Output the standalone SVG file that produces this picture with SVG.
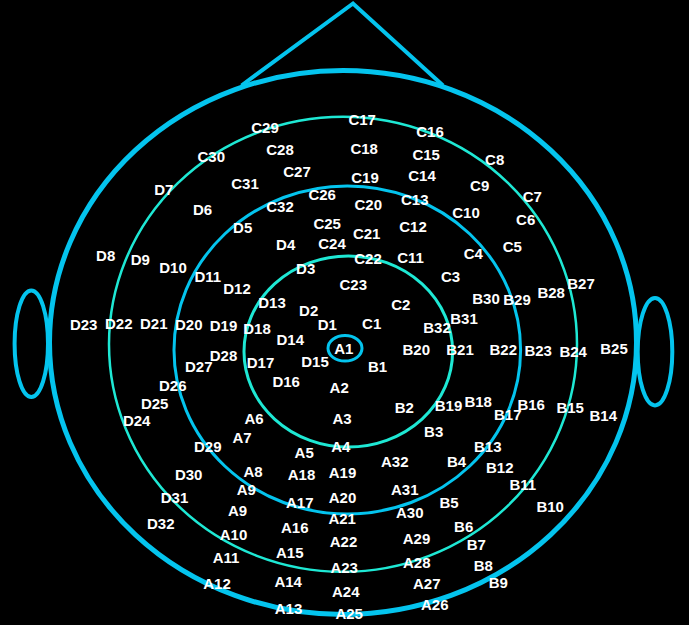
<svg xmlns="http://www.w3.org/2000/svg" width="689" height="625" viewBox="0 0 689 625">
<style>
.bg{fill:#000}
.hd{fill:none;stroke:#04c4ee}
.tq{fill:none;stroke:#1ee8d4}
text{font-family:"Liberation Sans",Arial,sans-serif;font-weight:bold;font-size:15px;fill:#fff;text-anchor:middle}
</style>
<rect class="bg" x="0" y="0" width="689" height="625"/>
<g id="head">
<polyline class="hd" points="241.5,85.5 353,3.5 443,85.5" stroke-width="4" stroke-linejoin="miter"/>
<ellipse class="hd" cx="343" cy="342.5" rx="293.5" ry="272" stroke-width="5"/>
<ellipse class="hd" cx="31.3" cy="343.7" rx="16.7" ry="53.3" stroke-width="4"/>
<ellipse class="hd" cx="655" cy="351.7" rx="17.3" ry="53.7" stroke-width="4"/>
<ellipse class="tq" cx="343" cy="344.3" rx="234" ry="227.5" stroke-width="2.5"/>
<ellipse class="hd" cx="347.3" cy="350" rx="173.3" ry="164" stroke-width="3"/>
<ellipse class="tq" cx="348.3" cy="351.5" rx="104.3" ry="95.5" stroke-width="3"/>
<ellipse class="hd" cx="345" cy="348.3" rx="17" ry="12.8" stroke-width="3"/>
</g>
<g id="labels">
<g id="C1"><text x="371.7" y="328.7">C1</text></g>
<g id="C2"><text x="400.8" y="309.9">C2</text></g>
<g id="C3"><text x="450.5" y="282.4">C3</text></g>
<g id="C4"><text x="473.3" y="258.7">C4</text></g>
<g id="C5"><text x="512.3" y="251.6">C5</text></g>
<g id="C6"><text x="525.7" y="224.9">C6</text></g>
<g id="C7"><text x="532.3" y="202.1">C7</text></g>
<g id="C8"><text x="494.7" y="165.4">C8</text></g>
<g id="C9"><text x="479.7" y="191.4">C9</text></g>
<g id="C10"><text x="466" y="218.2">C10</text></g>
<g id="C11"><text x="410.5" y="263.2">C11</text></g>
<g id="C12"><text x="413" y="231.6">C12</text></g>
<g id="C13"><text x="414.8" y="204.9">C13</text></g>
<g id="C14"><text x="422" y="180.9">C14</text></g>
<g id="C15"><text x="426.2" y="160.4">C15</text></g>
<g id="C16"><text x="430" y="137.2">C16</text></g>
<g id="C17"><text x="362.2" y="124.9">C17</text></g>
<g id="C18"><text x="364.2" y="153.7">C18</text></g>
<g id="C19"><text x="365" y="183.2">C19</text></g>
<g id="C20"><text x="368.3" y="210.4">C20</text></g>
<g id="C21"><text x="366.7" y="239.2">C21</text></g>
<g id="C22"><text x="368" y="263.7">C22</text></g>
<g id="C23"><text x="353.3" y="290.4">C23</text></g>
<g id="C24"><text x="332" y="248.7">C24</text></g>
<g id="C25"><text x="327.2" y="228.7">C25</text></g>
<g id="C26"><text x="322.2" y="199.9">C26</text></g>
<g id="C27"><text x="297" y="177.1">C27</text></g>
<g id="C28"><text x="280" y="154.9">C28</text></g>
<g id="C29"><text x="265" y="132.9">C29</text></g>
<g id="C30"><text x="211.3" y="162.4">C30</text></g>
<g id="C31"><text x="245" y="189.2">C31</text></g>
<g id="C32"><text x="280" y="211.9">C32</text></g>
<g id="D1"><text x="327.3" y="329.9">D1</text></g>
<g id="D2"><text x="308.7" y="315.9">D2</text></g>
<g id="D3"><text x="305.7" y="274.2">D3</text></g>
<g id="D4"><text x="285.7" y="249.9">D4</text></g>
<g id="D5"><text x="242.7" y="232.6">D5</text></g>
<g id="D6"><text x="202.5" y="214.9">D6</text></g>
<g id="D7"><text x="163.8" y="195.4">D7</text></g>
<g id="D8"><text x="105.7" y="261.2">D8</text></g>
<g id="D9"><text x="140.3" y="265.4">D9</text></g>
<g id="D10"><text x="173" y="273.2">D10</text></g>
<g id="D11"><text x="207.8" y="281.9">D11</text></g>
<g id="D12"><text x="237" y="293.7">D12</text></g>
<g id="D13"><text x="272" y="307.9">D13</text></g>
<g id="D14"><text x="290.3" y="345.4">D14</text></g>
<g id="D15"><text x="315" y="366.6">D15</text></g>
<g id="D16"><text x="286.2" y="387.4">D16</text></g>
<g id="D17"><text x="260.5" y="368.2">D17</text></g>
<g id="D18"><text x="257" y="334.1">D18</text></g>
<g id="D19"><text x="223.5" y="330.9">D19</text></g>
<g id="D20"><text x="188.8" y="330.4">D20</text></g>
<g id="D21"><text x="153.8" y="329.2">D21</text></g>
<g id="D22"><text x="118.8" y="329.2">D22</text></g>
<g id="D23"><text x="83.7" y="329.9">D23</text></g>
<g id="D24"><text x="136.7" y="425.9">D24</text></g>
<g id="D25"><text x="154.7" y="409.2">D25</text></g>
<g id="D26"><text x="172.8" y="391.2">D26</text></g>
<g id="D27"><text x="198.8" y="371.6">D27</text></g>
<g id="D28"><text x="223.5" y="360.7">D28</text></g>
<g id="D29"><text x="207.8" y="451.6">D29</text></g>
<g id="D30"><text x="188.7" y="479.9">D30</text></g>
<g id="D31"><text x="174.5" y="502.6">D31</text></g>
<g id="D32"><text x="160.8" y="529.2">D32</text></g>
<g id="A1"><text x="343.8" y="353.6">A1</text></g>
<g id="A2"><text x="339.2" y="393.2">A2</text></g>
<g id="A3"><text x="342" y="423.9">A3</text></g>
<g id="A4"><text x="340.8" y="451.6">A4</text></g>
<g id="A5"><text x="304.2" y="457.6">A5</text></g>
<g id="A6"><text x="254" y="423.9">A6</text></g>
<g id="A7"><text x="242" y="443.2">A7</text></g>
<g id="A8"><text x="253" y="477.1">A8</text></g>
<g id="A9"><text x="246.3" y="495.4">A9</text></g>
<g id="A9b"><text x="237.5" y="516.2">A9</text></g>
<g id="A10"><text x="233.5" y="540.4">A10</text></g>
<g id="A11"><text x="226" y="563.2">A11</text></g>
<g id="A12"><text x="217" y="589.1">A12</text></g>
<g id="A13"><text x="288.5" y="614.1">A13</text></g>
<g id="A14"><text x="288.2" y="587.4">A14</text></g>
<g id="A15"><text x="289.8" y="557.6">A15</text></g>
<g id="A16"><text x="294.8" y="532.6">A16</text></g>
<g id="A17"><text x="299.8" y="508.2">A17</text></g>
<g id="A18"><text x="301.5" y="480.4">A18</text></g>
<g id="A19"><text x="342.5" y="477.6">A19</text></g>
<g id="A20"><text x="342.5" y="502.6">A20</text></g>
<g id="A21"><text x="342.2" y="524.2">A21</text></g>
<g id="A22"><text x="343.5" y="547.1">A22</text></g>
<g id="A23"><text x="344.2" y="573.2">A23</text></g>
<g id="A24"><text x="345.8" y="597.4">A24</text></g>
<g id="A25"><text x="349.2" y="618.9">A25</text></g>
<g id="A26"><text x="434.8" y="609.9">A26</text></g>
<g id="A27"><text x="426.8" y="589.2">A27</text></g>
<g id="A28"><text x="416.8" y="567.6">A28</text></g>
<g id="A29"><text x="416.5" y="544.2">A29</text></g>
<g id="A30"><text x="409.8" y="518.2">A30</text></g>
<g id="A31"><text x="404.8" y="494.9">A31</text></g>
<g id="A32"><text x="394.8" y="466.6">A32</text></g>
<g id="B1"><text x="377.5" y="372.2">B1</text></g>
<g id="B2"><text x="404.3" y="412.6">B2</text></g>
<g id="B3"><text x="433.7" y="436.6">B3</text></g>
<g id="B4"><text x="456.5" y="466.6">B4</text></g>
<g id="B5"><text x="449" y="507.6">B5</text></g>
<g id="B6"><text x="463.7" y="532.2">B6</text></g>
<g id="B7"><text x="476.3" y="550.1">B7</text></g>
<g id="B8"><text x="483.3" y="571.2">B8</text></g>
<g id="B9"><text x="498.3" y="587.6">B9</text></g>
<g id="B10"><text x="550.2" y="512.1">B10</text></g>
<g id="B11"><text x="522.8" y="489.9">B11</text></g>
<g id="B12"><text x="499.8" y="473.2">B12</text></g>
<g id="B13"><text x="487.8" y="451.6">B13</text></g>
<g id="B14"><text x="603.3" y="420.9">B14</text></g>
<g id="B15"><text x="570.2" y="412.6">B15</text></g>
<g id="B16"><text x="531.2" y="409.9">B16</text></g>
<g id="B17"><text x="507.8" y="420.4">B17</text></g>
<g id="B18"><text x="478.2" y="406.6">B18</text></g>
<g id="B19"><text x="448.5" y="410.7">B19</text></g>
<g id="B20"><text x="416.3" y="355.4">B20</text></g>
<g id="B21"><text x="460" y="354.9">B21</text></g>
<g id="B22"><text x="503.3" y="354.6">B22</text></g>
<g id="B23"><text x="538.2" y="355.9">B23</text></g>
<g id="B24"><text x="573.2" y="356.6">B24</text></g>
<g id="B25"><text x="614" y="353.7">B25</text></g>
<g id="B27"><text x="581" y="289.2">B27</text></g>
<g id="B28"><text x="551.2" y="298.2">B28</text></g>
<g id="B29"><text x="517" y="304.9">B29</text></g>
<g id="B30"><text x="486" y="304.1">B30</text></g>
<g id="B31"><text x="464" y="323.7">B31</text></g>
<g id="B32"><text x="437" y="333.2">B32</text></g>
</g>
</svg>
